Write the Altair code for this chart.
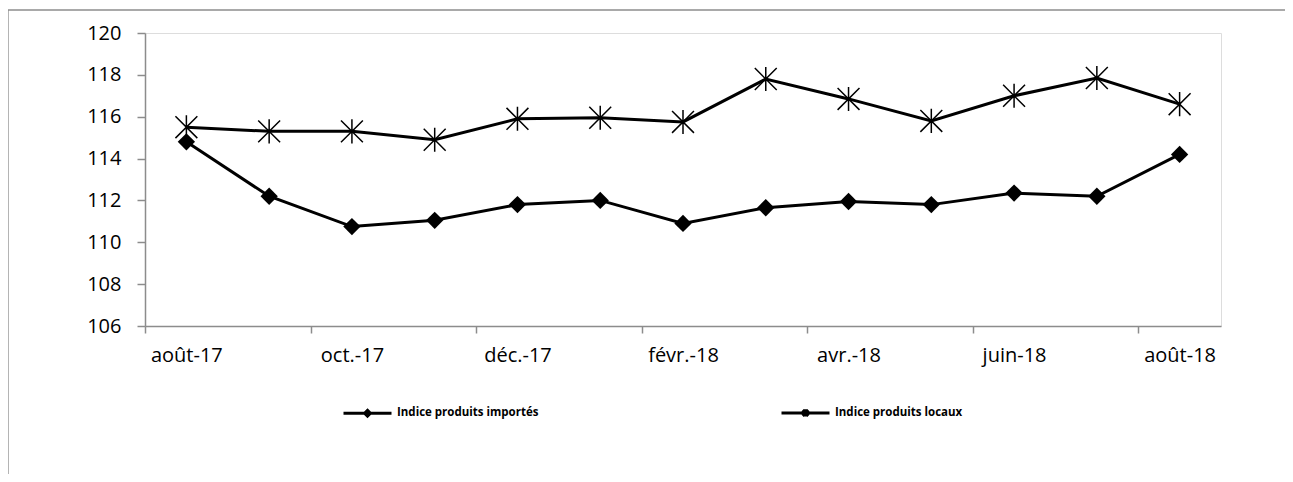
import json
import altair as alt
import pandas as pd

months = ["août-17", "sept.-17", "oct.-17", "nov.-17", "déc.-17", "janv.-18", "févr.-18",
          "mars-18", "avr.-18", "mai-18", "juin-18", "juil.-18", "août-18"]
importes = [114.8, 112.2, 110.75, 111.05, 111.8, 112.0, 110.9, 111.65, 111.95, 111.8, 112.35, 112.2, 114.2]
locaux = [115.5, 115.3, 115.3, 114.9, 115.9, 115.95, 115.75, 117.8, 116.85, 115.8, 117.0, 117.85, 116.6]
series_names = ["Indice produits importés", "Indice produits locaux"]
label_positions = list(range(0, len(months), 2))          # labelled months
tick_positions = [i - 0.5 for i in label_positions]      # ticks between months
y_ticks = [106, 108, 110, 112, 114, 116, 118, 120]

rows = []
for i, (m, a, b) in enumerate(zip(months, importes, locaux)):
    rows.append({"idx": i, "mois": m, "serie": series_names[0], "valeur": a})
    rows.append({"idx": i, "mois": m, "serie": series_names[1], "valeur": b})
df = pd.DataFrame(rows)

FONT = "Open Sans"
GREY = "#8c8c8c"
STAR = "M-1,-1L1,1M1,-1L-1,1M0,-1.1V1.1"
LEG_DIAMOND = "M-1,0H1M0,-0.12L0.12,0L0,0.12L-0.12,0Z"
LEG_STAR = "M-1,0H1M-0.12,-0.12L0.12,0.12M0.12,-0.12L-0.12,0.12M0,-0.15V0.15"

axis_values = sorted(tick_positions + label_positions)
label_expr = ("datum.value % 1 == 0 ? " + json.dumps(months, ensure_ascii=False)
              + "[datum.value] : ''")

x_enc = alt.X("idx:Q",
              scale=alt.Scale(domain=[-0.5, len(months) - 0.5], nice=False, zero=False),
              axis=alt.Axis(values=axis_values, labelExpr=label_expr, title=None,
                            domainColor=GREY, domainWidth=1.5, tickColor=GREY, tickWidth=1.5,
                            tickOpacity={"condition": {"test": "datum.value % 1 == 0", "value": 0},
                                         "value": 1},
                            tickSize=7, labelPadding=12, labelFont=FONT, labelFontSize=20,
                            labelColor="black", grid=False, labelOverlap=False,
                            labelFlush=False, labelBound=False))
y_enc = alt.Y("valeur:Q",
              scale=alt.Scale(domain=[106, 120], nice=False, zero=False),
              axis=alt.Axis(values=y_ticks, title=None, domainColor=GREY, domainWidth=1.5,
                            tickColor=GREY, tickWidth=1.5, tickSize=8, labelPadding=16,
                            labelFont=FONT, labelFontSize=20, labelColor="black", grid=False))

base = alt.Chart(df)

lines = base.mark_line(color="black", strokeWidth=3).encode(x=x_enc, y=y_enc, detail="serie:N")

diamonds = base.transform_filter(alt.datum.serie == series_names[0]).mark_point(
    shape="diamond", filled=True, size=300, color="black", opacity=1
).encode(x=x_enc, y=y_enc)

stars = base.transform_filter(alt.datum.serie == series_names[1]).mark_point(
    shape=STAR, filled=False, size=480, color="black", strokeWidth=1.5, opacity=1
).encode(x=x_enc, y=y_enc)

legend_layer = base.mark_point(filled=False, opacity=0, color="black").encode(
    x=x_enc, y=y_enc,
    shape=alt.Shape("serie:N", sort=series_names,
                    scale=alt.Scale(domain=series_names, range=[LEG_DIAMOND, LEG_STAR]),
                    legend=alt.Legend(title=None, orient="none", legendX=197, legendY=354,
                                      direction="horizontal", columns=2, columnPadding=236,
                                      gridAlign="all", padding=0,
                                      symbolSize=2304, symbolStrokeWidth=3,
                                      symbolStrokeColor="black",
                                      symbolOpacity=1, labelOffset=4,
                                      labelFont=FONT, labelFontSize=11.5, labelFontWeight="bold",
                                      labelColor="black", labelLimit=400))
)

frame_left = alt.Chart(alt.Data(values=[{}])).mark_rule(color=GREY, strokeWidth=1.3).encode(
    x=alt.value(-137), y=alt.value(-23), y2=alt.value(480))
frame_top = alt.Chart(alt.Data(values=[{}])).mark_rule(color=GREY, strokeWidth=1.3).encode(
    x=alt.value(-137), x2=alt.value(1300), y=alt.value(-23))

chart = alt.layer(frame_left, frame_top, lines, diamonds, stars, legend_layer).properties(
    width=1076, height=293,
    autosize=alt.AutoSizeParams(type="none"),
    padding={"left": 137, "top": 25, "right": 64, "bottom": 148},
).configure_view(stroke=None).configure(background="white")

chart.save("out.html", embed_options={"renderer": "svg", "actions": False})
